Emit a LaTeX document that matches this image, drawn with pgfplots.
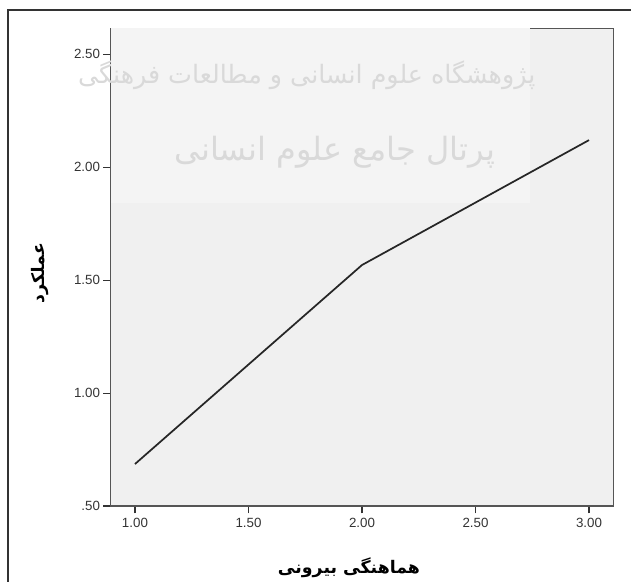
\documentclass[border=0pt]{standalone}
\usepackage{fontspec}
\setmainfont{Liberation Sans}
\newfontfamily\arabicfont[Script=Arabic]{DejaVu Sans}
\TeXXeTstate=1
\usepackage{pgfplots}
\pgfplotsset{compat=1.18}

\definecolor{plotbg}{HTML}{F0F0F0}
\definecolor{washbg}{HTML}{F4F4F4}
\definecolor{framegray}{HTML}{333333}
\definecolor{axisgray}{HTML}{555555}
\definecolor{wmark}{HTML}{D9D9D9}

\begin{document}
\begin{tikzpicture}
\path[use as bounding box] (-83pt,-56.25pt) rectangle (390.2pt,379.5pt);
% outer chart frame (only left and top edges are inside the picture)
\draw[line width=1.9pt, framegray] (-77pt,-90pt) -- (-77pt,372pt) -- (430pt,372pt);

\begin{axis}[
    scale only axis,
    width=376.95pt, height=358.3pt,
    clip=false,
    xmin=0.893, xmax=3.107,
    ymin=0.5, ymax=2.615,
    axis background/.style={fill=plotbg},
    axis line style={axisgray, line width=1.1pt},
    xtick={1,1.5,2,2.5,3},
    xticklabels={1.00,1.50,2.00,2.50,3.00},
    ytick={0.5,1,1.5,2,2.5},
    yticklabels={.50,1.00,1.50,2.00,2.50},
    xtick pos=bottom, ytick pos=left,
    tick align=outside,
    major tick length=5.5pt,
    tick style={black!80, line width=0.9pt},
    ticklabel style={font=\fontsize{10}{12}\selectfont, text=black!80},
    yticklabel style={xshift=1pt},
    xlabel={\arabicfont\beginR هماهنگی بیرونی\endR},
    xlabel style={font=\fontsize{13}{15}\selectfont\bfseries,
        at={(axis description cs:0.474,-0.130)}, anchor=center},
    ylabel={\arabicfont\beginR عملکرد\endR},
    ylabel style={font=\fontsize{13}{15}\selectfont\bfseries,
        at={(axis description cs:-0.1407,0.488)}, anchor=center},
]
% lighter wash behind the watermark
\fill[washbg] (axis description cs:0,0.634) rectangle (axis description cs:0.834,1);
\node[text=wmark, font=\fontsize{19}{22}\selectfont\arabicfont]
    at (axis description cs:0.39,0.902) {\beginR پژوهشگاه علوم انسانی و مطالعات فرهنگی\endR};
\node[text=wmark, font=\fontsize{24}{28}\selectfont\arabicfont]
    at (axis description cs:0.446,0.741) {\beginR پرتال جامع علوم انسانی\endR};

\addplot[color=black!85, line width=1.3pt, mark=none]
    coordinates {(1,0.686) (2,1.567) (3,2.12)};
\end{axis}
\end{tikzpicture}
\end{document}
